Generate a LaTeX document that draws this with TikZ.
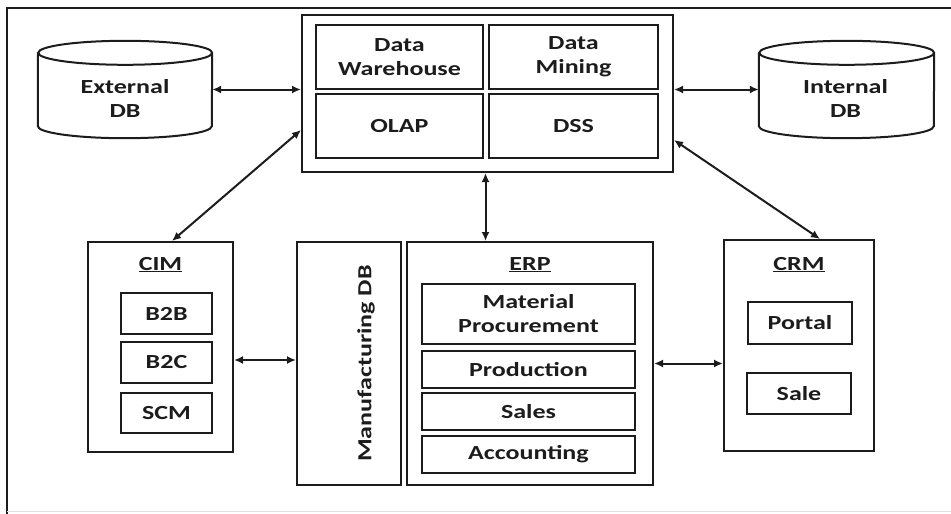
\documentclass[tikz,border=0pt]{standalone}
\usepackage{fontspec}
\setmainfont{Carlito}[FakeStretch=1.3]
\usetikzlibrary{arrows.meta}
\definecolor{ink}{RGB}{28,28,28}
\begin{document}
\begin{tikzpicture}[x=1pt,y=1pt,
  every node/.style={font=\fontsize{20}{24}\selectfont\bfseries, text=ink, align=center, inner sep=0pt},
  outline/.style={draw=ink, line width=2pt},
  box/.style={outline},
  dbarea/.style={minimum width=#1, minimum height=97},
  link/.style={draw=ink, line width=2pt, {Latex[length=9pt,width=8pt]}-{Latex[length=9pt,width=8pt]}}]
\useasboundingbox (0,0) rectangle (951,-514);

% page frame
\draw[ink, line width=1.8pt] (7,-514) -- (7,-8) -- (951,-8);
\draw[black!12, line width=1pt] (7,-511) -- (951,-511);

% central analytics block
\node[box, minimum width=371, minimum height=157] (hub) at (487.5,-93.5) {};
\node[box, minimum width=167, minimum height=64] (dw) at (399.5,-57) {Data\\Warehouse};
\node[box, minimum width=169, minimum height=64] (dm) at (573.5,-57) {Data\\Mining};
\node[box, minimum width=167, minimum height=64] (olap) at (399.5,-126) {OLAP};
\node[box, minimum width=169, minimum height=64] (dss) at (573.5,-126) {DSS};

% databases (cylinders)
\node[dbarea=174] (extdb) at (125,-89.5) {};
\draw[outline] ([yshift=-12]extdb.north west) -- ([yshift=12]extdb.south west)
  arc[start angle=180, end angle=360, x radius=87, y radius=12]
  -- ([yshift=-12]extdb.north east)
  arc[start angle=0, end angle=360, x radius=87, y radius=12];
\node (extdbtext) at ([yshift=-9]extdb.center) {External\\DB};

\node[dbarea=175] (intdb) at (846.5,-89.5) {};
\draw[outline] ([yshift=-12]intdb.north west) -- ([yshift=12]intdb.south west)
  arc[start angle=180, end angle=360, x radius=87.5, y radius=12]
  -- ([yshift=-12]intdb.north east)
  arc[start angle=0, end angle=360, x radius=87.5, y radius=12];
\node (intdbtext) at ([yshift=-9,xshift=-1]intdb.center) {Internal\\DB};

% CIM
\node[box, minimum width=145, minimum height=210] (cim) at (160.5,-347) {};
\node[anchor=base] (cimtitle) at (160.5,-270) {\underline{CIM}};
\node[box, minimum width=91, minimum height=41] (b2b) at (166.5,-313.5) {B2B};
\node[box, minimum width=91, minimum height=41] (b2c) at (166.5,-362.5) {B2C};
\node[box, minimum width=91, minimum height=40] (scm) at (166.5,-413) {SCM};

% manufacturing database
\node[box, minimum width=104, minimum height=243] (mfgdb) at (349,-363.5) {};
\node[rotate=90] (mfgtext) at ([xshift=17]mfgdb.center) {Manufacturing DB};

% ERP
\node[box, minimum width=246, minimum height=243] (erp) at (530,-363.5) {};
\node[anchor=base] (erptitle) at (530,-270) {\underline{ERP}};
\node[box, minimum width=213, minimum height=60] (mp) at (528.5,-314) {Material\\Procurement};
\node[box, minimum width=213, minimum height=37] (prod) at (528.5,-369.5) {Production};
\node[box, minimum width=213, minimum height=37] (sales) at (528.5,-411.5) {Sales};
\node[box, minimum width=213, minimum height=37] (acc) at (528.5,-454.5) {Accounting};

% CRM
\node[box, minimum width=150, minimum height=211] (crm) at (799,-345.5) {};
\node[anchor=base] (crmtitle) at (799,-270) {\underline{CRM}};
\node[box, minimum width=104, minimum height=42] (portal) at (800,-323) {Portal};
\node[box, minimum width=104, minimum height=41] (sale) at (799,-393.5) {Sale};

% connections
\draw[link] (extdb.east) -- (extdb.east -| hub.west);
\draw[link] (intdb.west -| hub.east) -- (intdb.west);
\draw[link] ([yshift=-36.5]hub.west) -- ([xshift=11.5]cim.north);
\draw[link] ([yshift=-46.5]hub.east) -- ([xshift=21]crm.north);
\draw[link] ([xshift=-2]hub.south) -- ([xshift=-2]hub.south |- erp.north);
\draw[link] ([yshift=-13]cim.east) -- ([yshift=-13]cim.east -| mfgdb.west);
\draw[link] (erp.east) -- (erp.east -| crm.west);
\end{tikzpicture}
\end{document}
